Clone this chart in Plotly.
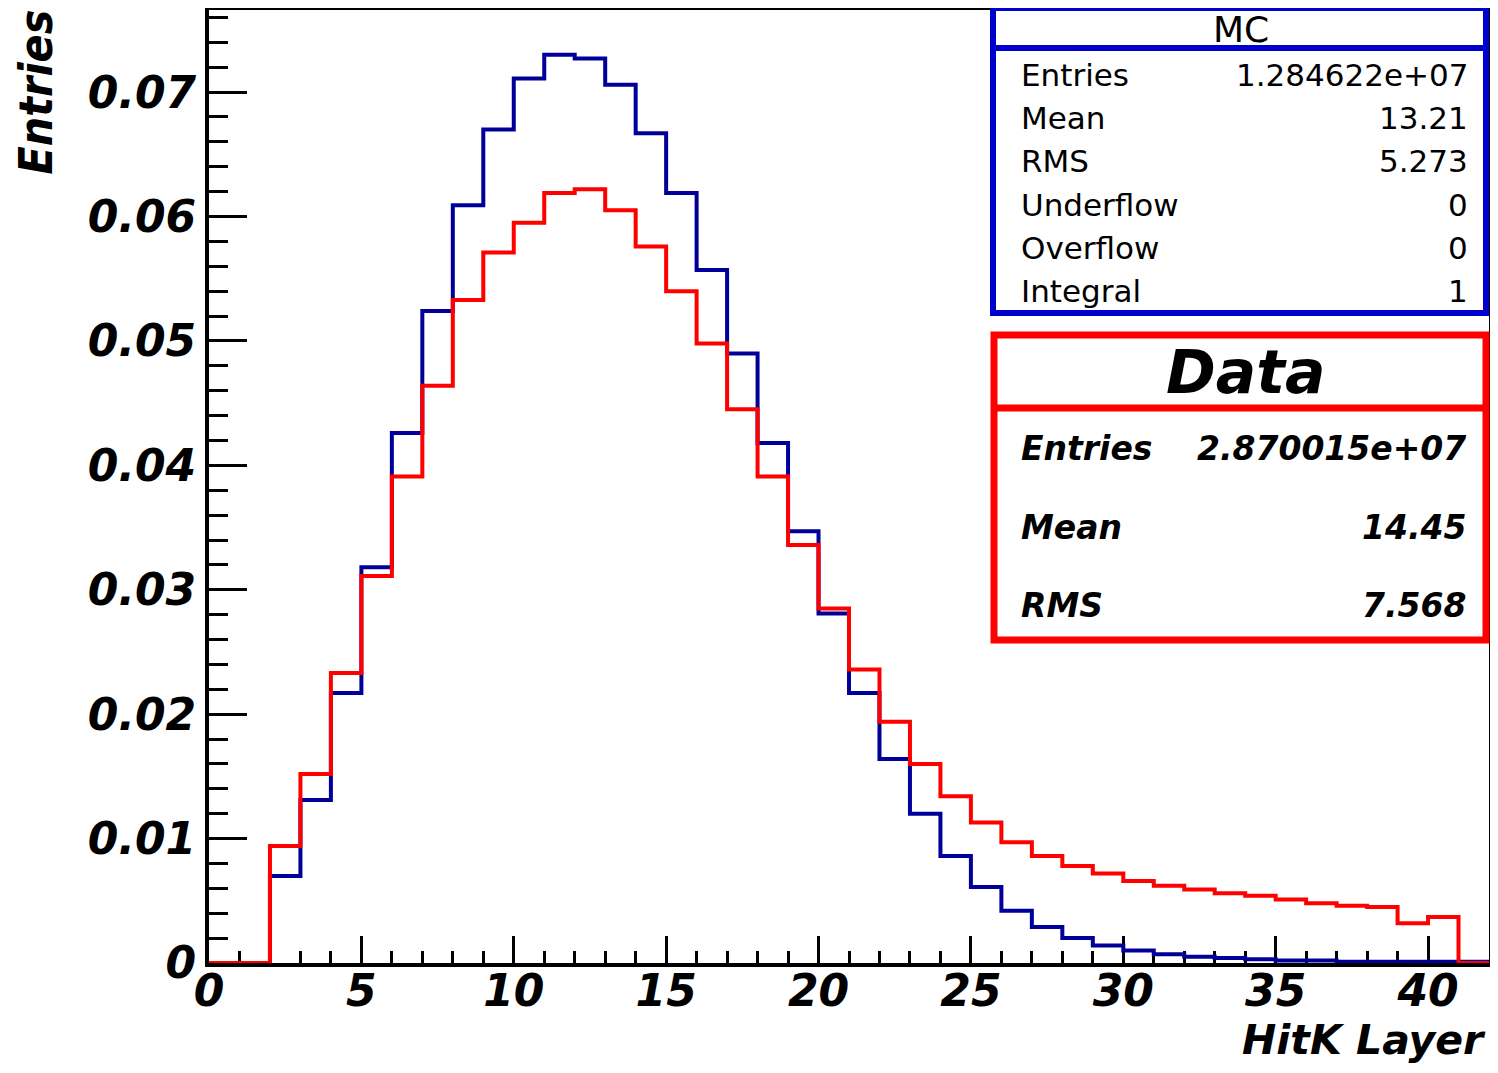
import plotly.graph_objects as go

# ---- data ----
bin_lower_edges = list(range(42))  # HitK layer bins, width 1, from 0 to 42
mc_values = [0.0, 0.0, 0.0070, 0.0131, 0.0217, 0.0318, 0.0426, 0.0524, 0.0609, 0.0670,
             0.0711, 0.0730, 0.0727, 0.0706, 0.0667, 0.0619, 0.0557, 0.0490, 0.0418, 0.0347,
             0.0281, 0.0217, 0.0164, 0.0120, 0.0086, 0.0061, 0.0042, 0.0029, 0.0020, 0.0014,
             0.0010, 0.0007, 0.0005, 0.0004, 0.0003, 0.0002, 0.0002, 0.0001, 0.0001, 0.0001,
             0.0001, 0.0001]
data_values = [0.0, 0.0, 0.0094, 0.0152, 0.0233, 0.0311, 0.0391, 0.0464, 0.0533, 0.0571,
               0.0595, 0.0619, 0.0622, 0.0605, 0.0576, 0.0540, 0.0498, 0.0445, 0.0391, 0.0336,
               0.0285, 0.0236, 0.0194, 0.0160, 0.0134, 0.0113, 0.0097, 0.0086, 0.0078, 0.0072,
               0.0066, 0.0062, 0.0059, 0.0056, 0.0054, 0.0051, 0.0048, 0.0046, 0.0045, 0.0032,
               0.0037, 0.0]
x_upper = 42
x_tick_vals = [0, 5, 10, 15, 20, 25, 30, 35, 40]
x_tick_labels = ["0", "5", "10", "15", "20", "25", "30", "35", "40"]
y_tick_vals = [0, 0.01, 0.02, 0.03, 0.04, 0.05, 0.06, 0.07]
y_tick_labels = ["0", "0.01", "0.02", "0.03", "0.04", "0.05", "0.06", "0.07"]
mc_stats_labels = ["Entries", "Mean", "RMS", "Underflow", "Overflow", "Integral"]
mc_stats_values = ["1.284622e+07", "13.21", "5.273", "0", "0", "1"]
data_stats_labels = ["Entries", "Mean", "RMS"]
data_stats_values = ["2.870015e+07", "14.45", "7.568"]

# ---- geometry (the page body has an 8px margin on every side) ----
OFF = 8
W, H = 1498 - 2 * OFF, 1073 - 2 * OFF
PLOT_L, PLOT_R, PLOT_T, PLOT_B = 209, 1489, 10, 963  # page pixels of the plot frame
L = PLOT_L - OFF
T = PLOT_T - OFF
R = W - (PLOT_R - OFF)
B = H - (PLOT_B - OFF)
PW, PH = PLOT_R - PLOT_L, PLOT_B - PLOT_T


def px(x):
    return (x - PLOT_L) / PW


def py(y):
    return (PLOT_B - y) / PH


def step(vals):
    return bin_lower_edges + [x_upper], vals + [vals[-1]]


fig = go.Figure()
xm, ym = step(mc_values)
fig.add_trace(go.Scatter(x=xm, y=ym, mode="lines", line=dict(color="#000099", width=4, shape="hv"),
                         name="MC", showlegend=False))
xd, yd = step(data_values)
fig.add_trace(go.Scatter(x=xd, y=yd, mode="lines", line=dict(color="#FF0000", width=4, shape="hv"),
                         name="Data", showlegend=False))

FONT = "DejaVu Sans, Liberation Sans, Arial, sans-serif"
tickfont = dict(family=FONT, size=44, color="black", weight="bold", style="italic")

fig.update_xaxes(range=[0, 42], showgrid=False, zeroline=False, automargin=False,
                 showline=True, linecolor="black", linewidth=4, mirror=True,
                 ticks="inside", tickmode="array", tickvals=x_tick_vals, ticktext=x_tick_labels,
                 ticklen=27, tickwidth=3, tickcolor="black",
                 minor=dict(ticks="inside", tickmode="linear", tick0=0, dtick=1, ticklen=12,
                            tickwidth=3, tickcolor="black"),
                 tickfont=tickfont, ticklabelstandoff=-14, layer="below traces")
fig.update_yaxes(range=[0, 0.0766], showgrid=False, zeroline=False, automargin=False,
                 showline=True, linecolor="black", linewidth=4, mirror=True,
                 ticks="inside", tickmode="array", tickvals=y_tick_vals, ticktext=y_tick_labels,
                 ticklen=38, tickwidth=3, tickcolor="black",
                 minor=dict(ticks="inside", tickmode="linear", tick0=0, dtick=0.002, ticklen=19,
                            tickwidth=3, tickcolor="black"),
                 tickfont=tickfont, ticklabelstandoff=0, layer="below traces")

shapes = []
annotations = []
BOX_L, BOX_R = 993, 1486

# MC stats box
shapes.append(dict(type="rect", xref="paper", yref="paper", x0=px(BOX_L), x1=px(BOX_R),
                   y0=py(313), y1=py(8), line=dict(color="#0000CC", width=6),
                   fillcolor="white", layer="above"))
shapes.append(dict(type="line", xref="paper", yref="paper", x0=px(BOX_L), x1=px(BOX_R),
                   y0=py(48), y1=py(48), line=dict(color="#0000CC", width=6), layer="above"))
annotations.append(dict(text="MC", xref="paper", yref="paper", x=px(1241), y=py(30),
                        xanchor="center", yanchor="middle", showarrow=False,
                        font=dict(family=FONT, size=36, color="black")))
mc_rows = [75, 118, 161, 205, 248, 291]
for lab, val, yy in zip(mc_stats_labels, mc_stats_values, mc_rows):
    annotations.append(dict(text=lab, xref="paper", yref="paper", x=px(1019), y=py(yy),
                            xanchor="left", yanchor="middle", showarrow=False,
                            font=dict(family=FONT, size=31, color="black")))
    annotations.append(dict(text=val, xref="paper", yref="paper", x=px(1470), y=py(yy),
                            xanchor="right", yanchor="middle", showarrow=False,
                            font=dict(family=FONT, size=31, color="black")))

# Data stats box
shapes.append(dict(type="rect", xref="paper", yref="paper", x0=px(BOX_L + 1), x1=px(BOX_R),
                   y0=py(640), y1=py(335), line=dict(color="#FF0000", width=7),
                   fillcolor="white", layer="above"))
shapes.append(dict(type="line", xref="paper", yref="paper", x0=px(BOX_L + 1), x1=px(BOX_R),
                   y0=py(408), y1=py(408), line=dict(color="#FF0000", width=7), layer="above"))
annotations.append(dict(text="Data", xref="paper", yref="paper", x=px(1245), y=py(372),
                        xanchor="center", yanchor="middle", showarrow=False,
                        font=dict(family=FONT, size=60, color="black",
                                  weight="bold", style="italic")))
data_rows = [448, 527, 605]
for lab, val, yy in zip(data_stats_labels, data_stats_values, data_rows):
    annotations.append(dict(text=lab, xref="paper", yref="paper", x=px(1019), y=py(yy),
                            xanchor="left", yanchor="middle", showarrow=False,
                            font=dict(family=FONT, size=33, color="black",
                                      weight="bold", style="italic")))
    annotations.append(dict(text=val, xref="paper", yref="paper", x=px(1468), y=py(yy),
                            xanchor="right", yanchor="middle", showarrow=False,
                            font=dict(family=FONT, size=33, color="black",
                                      weight="bold", style="italic")))

# axis titles
annotations.append(dict(text="Entries", xref="paper", yref="paper", x=px(36), y=py(8),
                        xanchor="center", yanchor="top", textangle=-90, showarrow=False,
                        font=dict(family="DejaVu Sans Condensed, DejaVu Sans, sans-serif", size=46,
                                  color="black", weight="bold", style="italic")))
annotations.append(dict(text="HitK Layer", xref="paper", yref="paper", x=px(1488), y=py(1040),
                        xanchor="right", yanchor="middle", showarrow=False,
                        font=dict(family=FONT, size=41, color="black",
                                  weight="bold", style="italic")))

fig.update_layout(width=W, height=H, margin=dict(l=L, r=R, t=T, b=B, pad=0),
                  plot_bgcolor="white", paper_bgcolor="white",
                  shapes=shapes, annotations=annotations, showlegend=False)

fig.write_html("out.html")
